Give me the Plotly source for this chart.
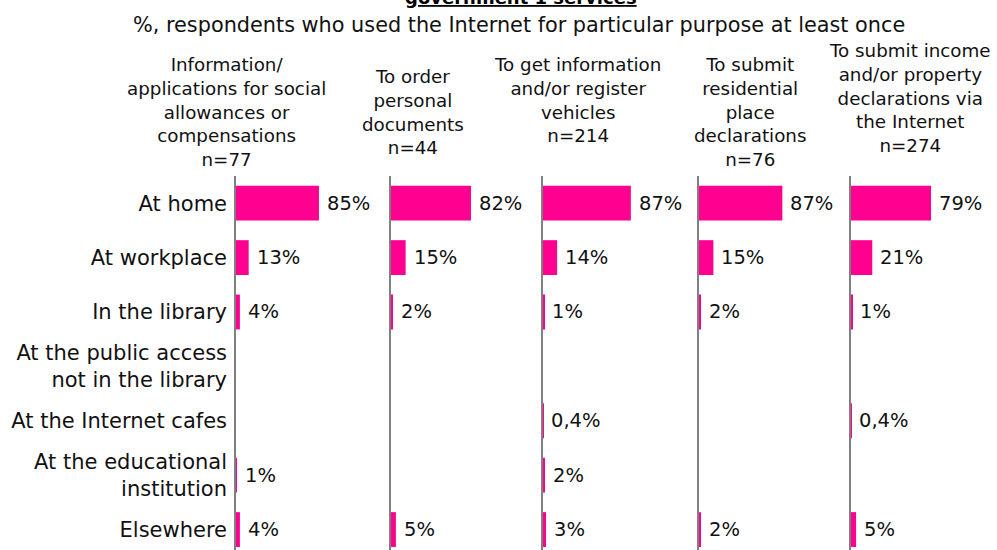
import plotly.graph_objects as go

# ---- data ----
categories = [
    "At home",
    "At workplace",
    "In the library",
    "At the public access<br>not in the library",
    "At the Internet cafes",
    "At the educational<br>institution",
    "Elsewhere",
]
panel_titles = [
    "Information/<br>applications for social<br>allowances or<br>compensations<br>n=77",
    "To order<br>personal<br>documents<br>n=44",
    "To get information<br>and/or register<br>vehicles<br>n=214",
    "To submit<br>residential<br>place<br>declarations<br>n=76",
    "To submit income<br>and/or property<br>declarations via<br>the Internet<br>n=274",
]
social_allowances = [85, 13, 4, None, None, 1, 4]
personal_documents = [82, 15, 2, None, None, None, 5]
vehicles = [87, 14, 1, None, 0.4, 2, 3]
residential_place = [87, 15, 2, None, None, None, 2]
income_property = [79, 21, 1, None, 0.4, None, 5]
series = [social_allowances, personal_documents, vehicles, residential_place, income_property]

title_text = "<b><u>government 1 services</u></b>"
subtitle_text = "%, respondents who used the Internet for particular purpose at least once"

# ---- layout helpers ----
W, H = 997, 550
TOP, BOTTOM = 176, 550
PLOT_H = BOTTOM - TOP


def py(p):
    return (BOTTOM - p) / PLOT_H


def px(p):
    return p / W


panel_left = [236, 391, 543, 699, 851]
panel_width = 140
axis_max = [140 / 0.976, 140 / 0.976, 140 / 1.01, 140 / 0.958, 140 / 1.013]
title_cx = [226, 413, 577, 750, 910]
title_cy = [112, 112, 100, 112, 98]

PINK = "#FF0090"
FONT = "DejaVu Sans"


def fmt(v):
    if v is None:
        return ""
    s = f"{v:g}".replace(".", ",")
    return s + "%"


fig = go.Figure()
annotations = []
for i, vals in enumerate(series):
    xa = "x" if i == 0 else f"x{i+1}"
    ya = "y" if i == 0 else f"y{i+1}"
    fig.add_trace(go.Bar(
        x=vals, y=list(range(len(categories))), orientation="h",
        marker=dict(color=PINK, line=dict(width=0)),
        width=0.64, xaxis=xa, yaxis=ya, showlegend=False,
        hoverinfo="skip",
    ))
    for j, v in enumerate(vals):
        if v is None:
            continue
        annotations.append(dict(
            x=v, y=j, xref=xa, yref=ya, text=fmt(v), showarrow=False,
            xanchor="left", yanchor="middle", xshift=6,
            font=dict(family=FONT, size=19.5, color="#111111"),
        ))
    annotations.append(dict(
        x=px(title_cx[i]), y=py(title_cy[i]), xref="paper", yref="paper",
        text=panel_titles[i], showarrow=False, xanchor="center", yanchor="middle",
        align="center", font=dict(family=FONT, size=18.3, color="#111111"),
    ))

annotations.append(dict(
    x=px(521), y=py(-3), xref="paper", yref="paper", text=title_text,
    showarrow=False, xanchor="center", yanchor="middle",
    font=dict(family=FONT, size=18, color="#000000"),
))
annotations.append(dict(
    x=px(519), y=py(25), xref="paper", yref="paper", text=subtitle_text,
    showarrow=False, xanchor="center", yanchor="middle",
    font=dict(family=FONT, size=20.8, color="#111111"),
))

layout = dict(
    width=W, height=H,
    margin=dict(l=0, r=0, t=TOP, b=0),
    paper_bgcolor="white", plot_bgcolor="white",
    font=dict(family=FONT, size=19, color="#111111"),
    annotations=annotations,
)
for i in range(5):
    xk = "xaxis" if i == 0 else f"xaxis{i+1}"
    yk = "yaxis" if i == 0 else f"yaxis{i+1}"
    layout[xk] = dict(
        domain=[px(panel_left[i]), px(panel_left[i] + panel_width)],
        range=[0, axis_max[i]], showgrid=False, zeroline=False,
        showticklabels=False, showline=False, fixedrange=True,
        anchor="y" if i == 0 else f"y{i+1}",
    )
    layout[yk] = dict(
        domain=[0, 1], range=[6.376, -0.5],
        tickmode="array", tickvals=list(range(len(categories))),
        ticktext=categories, showticklabels=(i == 0),
        showgrid=False, zeroline=False, showline=True,
        linecolor="#808080", linewidth=1.5, ticks="",
        ticklabelstandoff=3,
        tickfont=dict(family=FONT, size=21, color="#111111"),
        anchor="x" if i == 0 else f"x{i+1}", fixedrange=True,
    )

fig.update_layout(**layout)
fig.write_html(
    "out.html",
    config={"displayModeBar": False},
    post_script="document.body.style.margin='0';document.body.style.overflow='hidden';",
)
